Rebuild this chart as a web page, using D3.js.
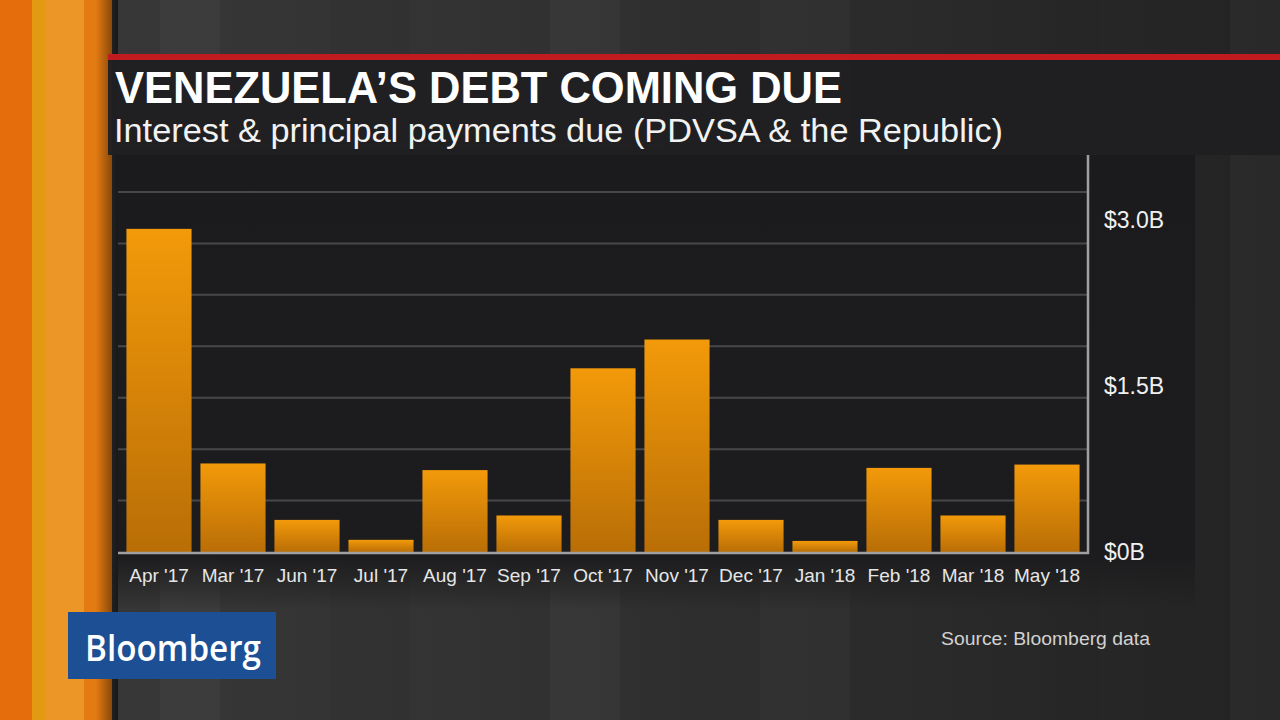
<!DOCTYPE html>
<html>
<head>
<meta charset="utf-8">
<script src="https://cdn.jsdelivr.net/npm/d3@7"></script>
<style>
  html, body { margin: 0; padding: 0; background: #2b2b2b; }
  svg { display: block; }
</style>
</head>
<body>
<svg id="chart" width="1280" height="720"></svg>
<script>
// données (milliards de dollars)
const months = ["Apr '17", "Mar '17", "Jun '17", "Jul '17", "Aug '17", "Sep '17", "Oct '17",
                "Nov '17", "Dec '17", "Jan '18", "Feb '18", "Mar '18", "May '18"];
const payments = [2.92, 0.80, 0.29, 0.11, 0.74, 0.33, 1.66, 1.92, 0.29, 0.10, 0.76, 0.33, 0.79];
const yTicks = [0, 1.5, 3.0];
const yTickLabels = ["$0B", "$1.5B", "$3.0B"];
const gridSteps = [1, 2, 3, 4, 5, 6, 7];

const title = "VENEZUELA\u2019S DEBT COMING DUE";
const subtitle = "Interest & principal payments due (PDVSA & the Republic)";
const source = "Source: Bloomberg data";

const svg = d3.select('#chart');
const W = 1280, H = 720;
const defs = svg.append('defs');

// fond gris avec bandes verticales
const bg = defs.append('linearGradient').attr('id', 'bgGrad').attr('x1', 0).attr('x2', 1).attr('y1', 0).attr('y2', 0);
[[0, '#383838'], [0.35, '#333333'], [0.6, '#2d2d2d'], [1, '#232323']]
  .forEach(([o, c]) => bg.append('stop').attr('offset', o).attr('stop-color', c));
svg.append('rect').attr('width', W).attr('height', H).attr('fill', 'url(#bgGrad)');

const stripes = [[160, 60, 0.03], [330, 80, -0.03], [550, 70, 0.03], [760, 90, 0.02], [1040, 60, -0.02], [1230, 50, 0.03]];
svg.append('g').selectAll('rect').data(stripes).enter().append('rect')
  .attr('x', d => d[0]).attr('width', d => d[1]).attr('y', 0).attr('height', H)
  .attr('fill', d => d[2] > 0 ? '#fff' : '#000')
  .attr('opacity', d => Math.abs(d[2]));

// bandes orange à gauche
const leftBands = [[0, 32, '#e66d0c'], [32, 14, '#e39a12'], [46, 38, '#ec9628'], [84, 28, '#e37a12']];
svg.append('g').selectAll('rect').data(leftBands).enter().append('rect')
  .attr('x', d => d[0]).attr('width', d => d[1]).attr('y', 0).attr('height', H)
  .attr('fill', d => d[2]);
const shade = defs.append('linearGradient').attr('id', 'shade').attr('x1', 0).attr('x2', 1);
shade.append('stop').attr('offset', 0).attr('stop-color', '#000').attr('stop-opacity', 0);
shade.append('stop').attr('offset', 1).attr('stop-color', '#000').attr('stop-opacity', 0.55);
svg.append('rect').attr('x', 96).attr('width', 22).attr('y', 0).attr('height', H).attr('fill', 'url(#shade)');

// panneau du graphique
const panelFade = defs.append('linearGradient').attr('id', 'panelFade').attr('x1', 0).attr('x2', 0).attr('y1', 0).attr('y2', 1);
panelFade.append('stop').attr('offset', 0).attr('stop-color', '#1b1b1d').attr('stop-opacity', 1);
panelFade.append('stop').attr('offset', 0.88).attr('stop-color', '#1c1c1e').attr('stop-opacity', 1);
panelFade.append('stop').attr('offset', 1).attr('stop-color', '#1c1c1e').attr('stop-opacity', 0);
svg.append('rect').attr('x', 118).attr('y', 150).attr('width', 1077).attr('height', 460).attr('fill', 'url(#panelFade)');

// bandeau de titre
svg.append('rect').attr('x', 108).attr('y', 55).attr('width', W - 108).attr('height', 100).attr('fill', '#1f1f21').attr('opacity', 0.96);
svg.append('rect').attr('x', 108).attr('y', 54).attr('width', W - 108).attr('height', 6).attr('fill', '#c11b1f');

svg.append('text').attr('x', 115).attr('y', 103)
  .attr('font-family', 'Liberation Sans, Arial, sans-serif').attr('font-weight', 'bold')
  .attr('font-size', 44).attr('fill', '#fff')
  .attr('textLength', 727).attr('lengthAdjust', 'spacingAndGlyphs')
  .text(title);
svg.append('text').attr('x', 114).attr('y', 142)
  .attr('font-family', 'Liberation Sans, Arial, sans-serif')
  .attr('font-size', 33).attr('fill', '#f2f2f2')
  .attr('textLength', 889).attr('lengthAdjust', 'spacingAndGlyphs')
  .text(subtitle);

// échelles
const x = d3.scaleBand().domain(months).range([122, 1084]).paddingInner(0.12).paddingOuter(0.06);
const y = d3.scaleLinear().domain([0, 3]).range([552, 220]);
const grid = d3.scaleLinear().domain([0, 7]).range([552, 192]);

svg.append('g').selectAll('line').data(gridSteps).enter().append('line')
  .attr('x1', 118).attr('x2', 1088)
  .attr('y1', d => grid(d)).attr('y2', d => grid(d))
  .attr('stroke', '#48484a').attr('stroke-width', 2);

// barres
const barGrad = defs.append('linearGradient').attr('id', 'barGrad').attr('x1', 0).attr('x2', 0).attr('y1', 0).attr('y2', 1);
barGrad.append('stop').attr('offset', 0).attr('stop-color', '#f39a0a');
barGrad.append('stop').attr('offset', 1).attr('stop-color', '#b96e06');

svg.append('g').selectAll('rect').data(payments).enter().append('rect')
  .attr('x', (d, i) => x(months[i]))
  .attr('width', x.bandwidth())
  .attr('y', d => y(d))
  .attr('height', d => y(0) - y(d))
  .attr('fill', 'url(#barGrad)');

// cadre
svg.append('line').attr('x1', 118).attr('x2', 1089).attr('y1', y(0) + 1).attr('y2', y(0) + 1)
  .attr('stroke', '#a0a0a0').attr('stroke-width', 2.5);
svg.append('line').attr('x1', 1088).attr('x2', 1088).attr('y1', 155).attr('y2', y(0) + 2)
  .attr('stroke', '#a0a0a0').attr('stroke-width', 2.5);

// axe des x
const xAxis = svg.append('g').attr('transform', `translate(0,${y(0)})`)
  .call(d3.axisBottom(x).tickSize(0).tickPadding(0));
xAxis.select('.domain').remove();
xAxis.selectAll('text')
  .attr('dy', 30)
  .attr('font-family', 'Liberation Sans, Arial, sans-serif')
  .attr('font-size', 19).attr('fill', '#e6e6e6');

// axe des y
const yAxis = svg.append('g').attr('transform', 'translate(1104,0)')
  .call(d3.axisRight(y).tickValues(yTicks).tickSize(0).tickPadding(0)
    .tickFormat((d, i) => yTickLabels[i]));
yAxis.select('.domain').remove();
yAxis.selectAll('text')
  .attr('font-family', 'Liberation Sans, Arial, sans-serif')
  .attr('font-size', 23).attr('fill', '#f0f0f0');

// source
svg.append('text').attr('x', 941).attr('y', 645)
  .attr('font-family', 'Liberation Sans, Arial, sans-serif')
  .attr('font-size', 18).attr('fill', '#d2d2d2')
  .attr('textLength', 209).attr('lengthAdjust', 'spacingAndGlyphs')
  .text(source);

// logo
svg.append('rect').attr('x', 68).attr('y', 612).attr('width', 208).attr('height', 67).attr('fill', '#1c4f93');
svg.append('text').attr('x', 85).attr('y', 661)
  .attr('font-family', 'Open Sans, Liberation Sans, sans-serif').attr('font-weight', 600)
  .attr('font-size', 36).attr('fill', '#fff')
  .attr('textLength', 176).attr('lengthAdjust', 'spacingAndGlyphs')
  .text('Bloomberg');
</script>
</body>
</html>
